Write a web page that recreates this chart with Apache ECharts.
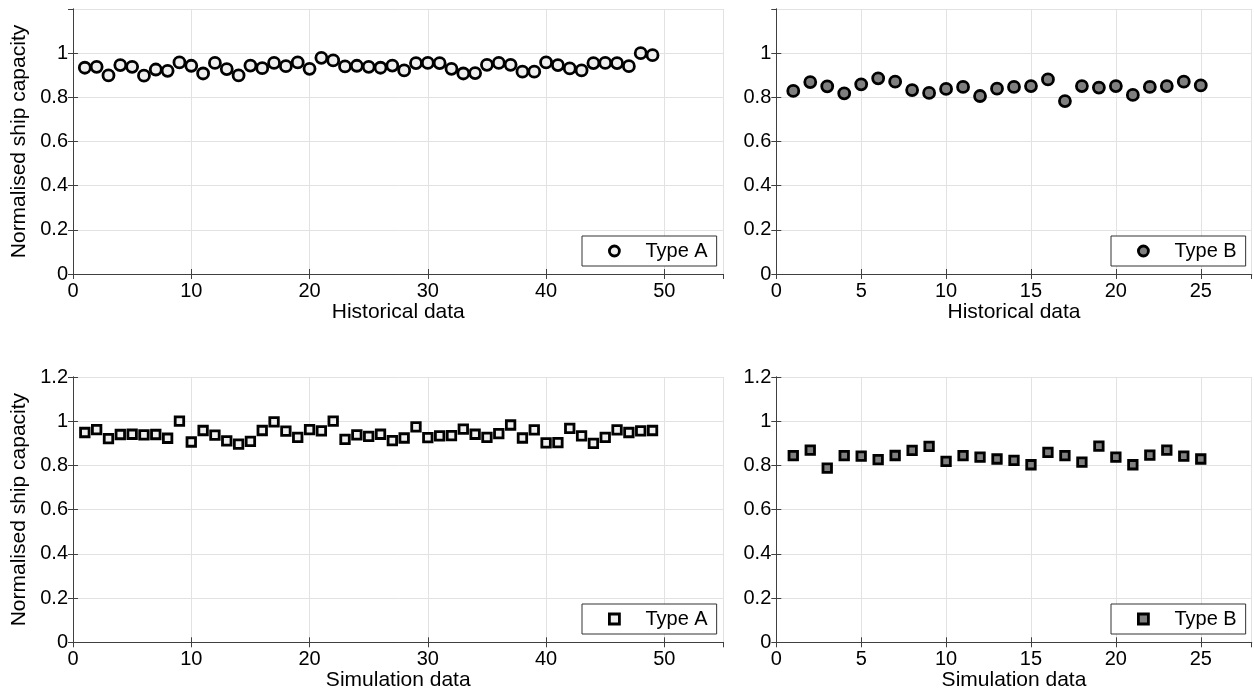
<!DOCTYPE html>
<html>
<head>
<meta charset="utf-8">
<script src="https://cdn.jsdelivr.net/npm/echarts@6/dist/echarts.min.js"></script>
<style>
html,body{margin:0;padding:0;background:#fff;}
#c{width:1254px;height:693px;}
</style>
</head>
<body>
<div id="c"></div>
<script>
// Data
const histTypeA = [0.934,0.938,0.899,0.946,0.938,0.898,0.926,0.920,0.958,0.943,
  0.908,0.956,0.928,0.899,0.944,0.932,0.956,0.941,0.958,0.929,
  0.979,0.967,0.940,0.943,0.938,0.934,0.944,0.922,0.955,0.956,
  0.955,0.929,0.908,0.910,0.947,0.956,0.947,0.916,0.916,0.958,
  0.946,0.931,0.922,0.955,0.956,0.955,0.941,1.000,0.991];
const histTypeB = [0.829,0.869,0.850,0.818,0.859,0.886,0.871,0.833,0.820,0.838,
  0.847,0.806,0.839,0.847,0.851,0.881,0.783,0.851,0.844,0.851,
  0.811,0.847,0.851,0.871,0.854];
const simTypeA = [0.949,0.962,0.921,0.940,0.941,0.938,0.940,0.923,1.000,0.906,
  0.958,0.937,0.911,0.896,0.909,0.958,0.997,0.955,0.927,0.962,
  0.956,1.000,0.918,0.938,0.931,0.941,0.912,0.924,0.974,0.926,
  0.934,0.935,0.964,0.941,0.927,0.944,0.983,0.924,0.961,0.902,
  0.903,0.968,0.934,0.900,0.927,0.961,0.949,0.956,0.958];
const simTypeB = [0.844,0.869,0.788,0.844,0.842,0.826,0.845,0.868,0.886,0.818,
  0.844,0.838,0.829,0.823,0.803,0.859,0.844,0.815,0.887,0.838,
  0.803,0.847,0.869,0.842,0.829];

const yAxisName = 'Normalised ship capacity';
const xNameHist = 'Historical data';
const xNameSim = 'Simulation data';
const legendA = 'Type A';
const legendB = 'Type B';

const FONT = "'Liberation Sans', Arial, sans-serif";
const AXIS_COLOR = '#404040';
const GRID_COLOR = '#e2e2e2';

const toPts = arr => arr.map((v, i) => [i + 1, v]);

const grids = [
  {left: 73, top: 9, width: 650.5, height: 265},
  {left: 776.3, top: 9, width: 475.4, height: 265},
  {left: 73, top: 377, width: 650.5, height: 265.3},
  {left: 776.3, top: 377, width: 475.4, height: 265.3}
];

const xCfg = [
  {max: 55, interval: 10, name: xNameHist},
  {max: 28, interval: 5, name: xNameHist},
  {max: 55, interval: 10, name: xNameSim},
  {max: 28, interval: 5, name: xNameSim}
];

const TICK = {show: true, inside: true, length: 5, lineStyle: {color: AXIS_COLOR}};

const xAxes = [], yAxes = [];
grids.forEach((g, i) => {
  const c = xCfg[i];
  xAxes.push({
    gridIndex: i, type: 'value', position: 'bottom', min: 0, max: c.max, interval: c.interval,
    name: c.name, nameLocation: 'middle', nameGap: 27,
    nameTextStyle: {fontFamily: FONT, fontSize: 21, color: '#000'},
    axisLine: {show: true, lineStyle: {color: AXIS_COLOR, width: 1}},
    axisTick: TICK,
    axisLabel: {fontFamily: FONT, fontSize: 20, color: '#000', margin: 7, showMaxLabel: false},
    splitLine: {show: true, lineStyle: {color: GRID_COLOR, width: 1}}
  });
  xAxes.push({
    gridIndex: i, type: 'value', position: 'top', min: 0, max: c.max, interval: c.interval,
    axisLine: {show: true, lineStyle: {color: AXIS_COLOR, width: 1}},
    axisTick: TICK,
    axisLabel: {show: false},
    splitLine: {show: false}
  });
  const isTop = i < 2;
  const isLeft = i % 2 === 0;
  yAxes.push({
    gridIndex: i, type: 'value', position: 'left', min: 0, max: 1.2, interval: 0.2,
    name: isLeft ? yAxisName : '', nameLocation: 'middle', nameGap: 36,
    nameTextStyle: {fontFamily: FONT, fontSize: 21, color: '#000'},
    axisLine: {show: true, lineStyle: {color: AXIS_COLOR, width: 1}},
    axisTick: TICK,
    axisLabel: {fontFamily: FONT, fontSize: 20, color: '#000', margin: 5, showMaxLabel: !isTop,
      formatter: v => String(Math.round(v * 10) / 10)},
    splitLine: {show: true, lineStyle: {color: GRID_COLOR, width: 1}}
  });
  yAxes.push({
    gridIndex: i, type: 'value', position: 'right', min: 0, max: 1.2, interval: 0.2,
    axisLine: {show: true, lineStyle: {color: AXIS_COLOR, width: 1}},
    axisTick: TICK,
    axisLabel: {show: false},
    splitLine: {show: false}
  });
});

const seriesDefs = [
  {name: legendA, data: histTypeA, symbol: 'circle', size: 11, fill: '#efefef'},
  {name: legendB, data: histTypeB, symbol: 'circle', size: 11, fill: '#7f7f7f'},
  {name: legendA, data: simTypeA, symbol: 'rect', size: 8.5, fill: '#efefef'},
  {name: legendB, data: simTypeB, symbol: 'rect', size: 8.5, fill: '#7f7f7f'}
];

const series = seriesDefs.map((s, i) => ({
  type: 'scatter', name: s.name, xAxisIndex: i * 2, yAxisIndex: i * 2,
  data: toPts(s.data), symbol: s.symbol, symbolSize: s.size,
  itemStyle: {color: s.fill, borderColor: '#000', borderWidth: 2.8, opacity: 1},
  emphasis: {disabled: true}, z: 5
}));

const legendPos = [
  {left: 582, top: 236},
  {left: 1111, top: 236},
  {left: 582, top: 604},
  {left: 1111, top: 604}
];

const legends = seriesDefs.map((s, i) => ({
  left: legendPos[i].left, top: legendPos[i].top,
  data: [{name: s.name, icon: s.symbol}],
  orient: 'horizontal',
  backgroundColor: '#fff', borderColor: '#333', borderWidth: 1, borderRadius: 0,
  padding: [5, 9, 5, 26],
  itemWidth: 10, itemHeight: 10,
  itemStyle: {borderColor: '#000', borderWidth: 2.8},
  textStyle: {fontFamily: FONT, fontSize: 20, color: '#000', lineHeight: 20, padding: [0, 0, 0, 21]},
  selectedMode: false
}));

const chart = echarts.init(document.getElementById('c'), null, {renderer: 'canvas'});
chart.setOption({
  animation: false,
  backgroundColor: '#fff',
  grid: grids.map(g => Object.assign({containLabel: false, show: false}, g)),
  xAxis: xAxes,
  yAxis: yAxes,
  legend: legends,
  series: series
});
</script>
</body>
</html>
